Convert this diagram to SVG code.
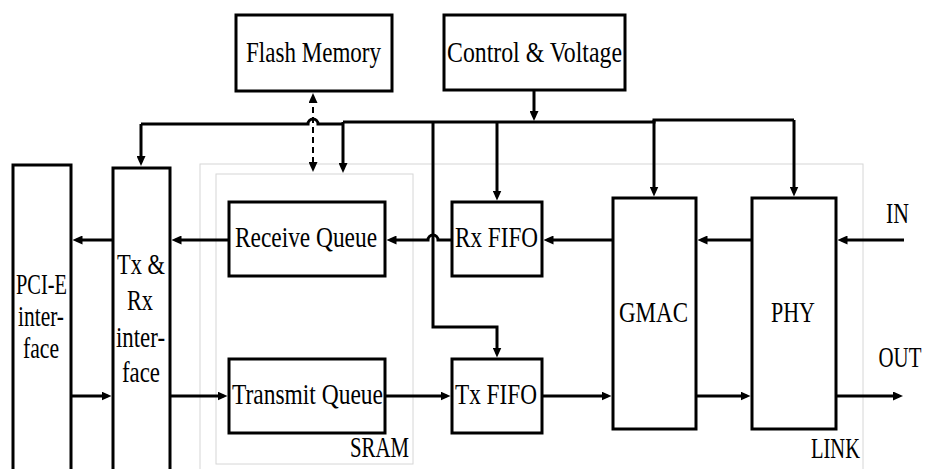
<svg xmlns="http://www.w3.org/2000/svg" width="927" height="469" viewBox="0 0 927 469">
<style>
.box{fill:#fff;stroke:#000;stroke-width:3}
.zone{fill:none;stroke:#d6d6d6;stroke-width:1}
.c{fill:none;stroke:#000;stroke-width:3}
.a{marker-end:url(#ah)}
.d{fill:none;stroke:#000;stroke-width:2;stroke-dasharray:6 4;marker-start:url(#ah2);marker-end:url(#ah2)}
text{font-family:"Liberation Serif","Times New Roman",serif;font-size:29px;fill:#000;text-anchor:middle}
</style>
<defs>
<marker id="ah" viewBox="0 0 10 9" refX="6" refY="4.5" markerWidth="10" markerHeight="9" markerUnits="userSpaceOnUse" orient="auto"><path d="M0 0L10 4.5L0 9z" fill="#000"/></marker>
<marker id="ah2" viewBox="0 0 10 9" refX="6" refY="4.5" markerWidth="10" markerHeight="9" markerUnits="userSpaceOnUse" orient="auto-start-reverse"><path d="M0 0L10 4.5L0 9z" fill="#000"/></marker>
</defs>
<rect width="927" height="469" fill="#fff"/>
<g id="zones">
<rect class="zone" x="200" y="164" width="663" height="330"/>
<rect class="zone" x="216" y="174" width="197" height="290"/>
<text x="379.5" y="457" textLength="59" lengthAdjust="spacingAndGlyphs">SRAM</text>
<text x="835.5" y="458" textLength="49" lengthAdjust="spacingAndGlyphs">LINK</text>
</g>
<g id="connectors">
<path class="c a" d="M534 90V117"/>
<path class="c" d="M343 122H654V120H794"/>
<path class="c" d="M141 124H308A5 5 0 0 1 318 124H343"/>
<path class="c a" d="M141 124V162"/>
<path class="c a" d="M343 122V169"/>
<path class="c a" d="M433 122V327H497V353.5"/>
<path class="c a" d="M497 122V196.5"/>
<path class="c a" d="M654 120V192.5"/>
<path class="c a" d="M794 120V192.5"/>
<path class="d" d="M313 97V168"/>
<path class="c a" d="M904 240H841.5"/>
<path class="c a" d="M752 240H701.5"/>
<path class="c a" d="M613 240H547.5"/>
<path class="c a" d="M452 240H438A5 5 0 0 0 428 240H390.5"/>
<path class="c a" d="M229 240H175.5"/>
<path class="c a" d="M113 240H76.5"/>
<path class="c a" d="M72 396H107.5"/>
<path class="c a" d="M171 396H223.5"/>
<path class="c a" d="M385 396H446.5"/>
<path class="c a" d="M542 396H607.5"/>
<path class="c a" d="M697 396H746.5"/>
<path class="c a" d="M837 396H899"/>
</g>
<g id="flash"><rect class="box" x="236" y="15" width="156" height="76"/><text x="313.5" y="62" textLength="135" lengthAdjust="spacingAndGlyphs">Flash Memory</text></g>
<g id="control"><rect class="box" x="444" y="15" width="181" height="75"/><text x="534.5" y="62" textLength="175" lengthAdjust="spacingAndGlyphs">Control &amp; Voltage</text></g>
<g id="pcie"><rect class="box" x="13" y="165" width="58" height="330"/>
<text x="41.5" y="294" textLength="51" lengthAdjust="spacingAndGlyphs">PCI-E</text>
<text x="41" y="326" textLength="46" lengthAdjust="spacingAndGlyphs">inter-</text>
<text x="41" y="358" textLength="36" lengthAdjust="spacingAndGlyphs">face</text></g>
<g id="txrx"><rect class="box" x="113" y="168" width="57" height="330"/>
<text x="141" y="274" textLength="48" lengthAdjust="spacingAndGlyphs">Tx &amp;</text>
<text x="140" y="310" textLength="26" lengthAdjust="spacingAndGlyphs">Rx</text>
<text x="140.5" y="347" textLength="49" lengthAdjust="spacingAndGlyphs">inter-</text>
<text x="141" y="382" textLength="38" lengthAdjust="spacingAndGlyphs">face</text></g>
<g id="rq"><rect class="box" x="229" y="202" width="156" height="74"/><text x="306" y="247" textLength="142" lengthAdjust="spacingAndGlyphs">Receive Queue</text></g>
<g id="tq"><rect class="box" x="229" y="359" width="156" height="74"/><text x="307.5" y="404" textLength="151" lengthAdjust="spacingAndGlyphs">Transmit Queue</text></g>
<g id="rxfifo"><rect class="box" x="452" y="202" width="90" height="74"/><text x="496.5" y="247" textLength="83" lengthAdjust="spacingAndGlyphs">Rx FIFO</text></g>
<g id="txfifo"><rect class="box" x="452" y="359" width="90" height="74"/><text x="496" y="404" textLength="82" lengthAdjust="spacingAndGlyphs">Tx FIFO</text></g>
<g id="gmac"><rect class="box" x="613" y="198" width="83" height="231"/><text x="653.5" y="322" textLength="69" lengthAdjust="spacingAndGlyphs">GMAC</text></g>
<g id="phy"><rect class="box" x="752" y="198" width="84" height="231"/><text x="793" y="322" textLength="44" lengthAdjust="spacingAndGlyphs">PHY</text></g>
<g id="labels">
<text x="897.5" y="223" textLength="23" lengthAdjust="spacingAndGlyphs">IN</text>
<text transform="translate(900 367) scale(0.72 1)" x="0" y="0">OUT</text>
</g>
</svg>
